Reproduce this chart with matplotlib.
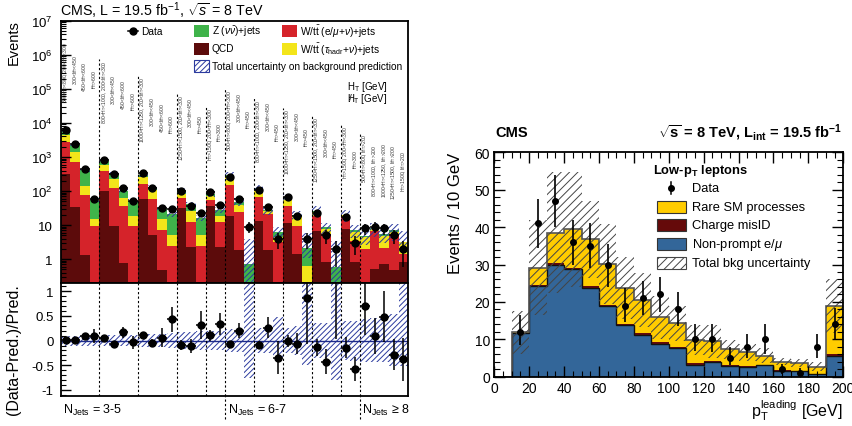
import numpy as np
import matplotlib
matplotlib.use('Agg')
import matplotlib.pyplot as plt
from matplotlib.patches import Rectangle
from matplotlib.lines import Line2D
from matplotlib.ticker import LogLocator, MultipleLocator, FuncFormatter, NullFormatter
import matplotlib.transforms as mtransforms

plt.rcParams['font.family'] = ['Liberation Sans', 'DejaVu Sans']
plt.rcParams['mathtext.fontset'] = 'custom'
plt.rcParams['mathtext.rm'] = 'Liberation Sans'
plt.rcParams['mathtext.it'] = 'Liberation Sans:italic'
plt.rcParams['mathtext.bf'] = 'Liberation Sans:bold'
plt.rcParams['hatch.linewidth'] = 0.7

# ---------------- left panel data (36 search bins) ----------------
qcd = [319, 35, 1.3, 0, 97, 9.7, 0.78, 0, 59, 5, 0.49, 0, 31, 2.25, 0, 36, 2.25,
       19, 1.9, 0, 13, 1.9, 0, 11.7, 1.44, 0, 6.6, 0.82, 0, 7.8, 0.82,
       0, 0.5, 0.7, 0.49, 0.82]
wlep = [2391, 700, 77.7, 9.7, 285, 114, 36.8, 9.3, 104, 54, 6.8, 2.5, 31, 9.95, 2.5, 17, 9.95,
        136, 22.1, 0, 56, 19.1, 3.3, 24.3, 8.26, 0, 12.4, 4.78, 0, 9.7, 2.68,
        2.0, 6.0, 1.5, 5.1, 0.62]
wtau = [1740, 645, 66, 5.6, 218, 104, 25.4, 9.7, 92, 52, 8, 2.5, 21, 14.6, 2.5, 17.5, 6.8,
        118, 16, 0, 42, 5, 1.3, 24, 8.6, 0.65, 5, 2.2, 0, 2, 2.7,
        2.4, 1.2, 2.7, 0.7, 1.66]
zinv = [1700, 930, 262, 38.7, 160, 101, 39, 33, 46, 23, 14, 16, 23.6, 14.8, 11.7, 12.5, 9.5,
        14, 9, 0.73, 11, 1, 1.5, 6, 1.9, 1.5, 2.7, 0.9, 0.58, 0.3, 0.9,
        0.3, 0.5, 0.5, 0.7, 0.1]
data = [6220, 2340, 448, 59, 800, 306, 119, 50, 334, 127, 31, 30, 97, 37, 22, 92, 38,
        267, 59, 9, 111, 34, 4, 65, 19, 4, 23, 5, 2, 17, 3,
        8, 9, 8, 5, 2]
data_err = [79, 48, 21, 7.7, 28, 17.5, 11, 7.1, 18, 11, 5.6, 5.5, 9.8, 6.1, 4.7, 9.6, 6.2,
            16, 7.7, 3, 10.5, 5.8, 2, 8.1, 4.4, 2, 4.8, 2.2, 1.4, 4.1, 1.7,
            2.8, 3, 2.8, 2.2, 1.4]
unc_up = [0.10, 0.10, 0.10, 0.11, 0.12, 0.12, 0.12, 0.12, 0.13, 0.14, 0.14, 0.16, 0.18, 0.18,
          0.20, 0.20, 0.20, 0.24, 0.24, 4.5, 0.25, 0.25, 0.47, 0.25, 0.30, 1.7, 0.36, 0.36,
          4.7, 0.39, 0.39, 0.44, 0.45, 0.50, 0.54, 1.17]
unc_dn = [0.10, 0.10, 0.10, 0.11, 0.12, 0.12, 0.12, 0.12, 0.13, 0.14, 0.14, 0.16, 0.18, 0.18,
          0.20, 0.20, 0.20, 0.24, 0.24, 0.76, 0.25, 0.25, 0.34, 0.25, 0.30, 0.50, 0.36, 0.36,
          0.80, 0.39, 0.41, 0.44, 0.44, 0.44, 0.52, 0.52]

HT = r'H$_{\rm T}$'
MHT = r'$\mathrm{H}\!\!\!\!/\;$' + r'$_{\rm T}$'
bin_labels = [
    f'500<{HT}<800, 200<{MHT}<300', f'300<{MHT}<450', f'450<{MHT}<600', f'{MHT}>600',
    f'800<{HT}<1000, 200<{MHT}<300', f'300<{MHT}<450', f'450<{MHT}<600', f'{MHT}>600',
    f'1000<{HT}<1250, 200<{MHT}<300', f'300<{MHT}<450', f'450<{MHT}<600', f'{MHT}>600',
    f'1250<{HT}<1500, 200<{MHT}<300', f'300<{MHT}<450', f'{MHT}>450',
    f'{HT}>1500, 200<{MHT}<300', f'{MHT}>300',
    f'500<{HT}<800, 200<{MHT}<300', f'300<{MHT}<450', f'{MHT}>450',
    f'800<{HT}<1000, 200<{MHT}<300', f'300<{MHT}<450', f'{MHT}>450',
    f'1000<{HT}<1250, 200<{MHT}<300', f'300<{MHT}<450', f'{MHT}>450',
    f'1250<{HT}<1500, 200<{MHT}<300', f'300<{MHT}<450', f'{MHT}>450',
    f'{HT}>1500, 200<{MHT}<300', f'{MHT}>300',
    f'500<{HT}<800, {MHT}>200', f'800<{HT}<1000, {MHT}>200', f'1000<{HT}<1250, {MHT}>200',
    f'1250<{HT}<1500, {MHT}>200', f'{HT}>1500, {MHT}>200',
]
group_edges = [4, 8, 12, 15, 17, 20, 23, 26, 29, 31]
njet_edges = [17, 31]
njet_labels = [r'N$_{\rm Jets}$ = 3-5', r'N$_{\rm Jets}$ = 6-7', r'N$_{\rm Jets}$ ≥ 8']

# ---------------- right panel data ----------------
edges_r = np.arange(0, 201, 10)
nonprompt = [0, 11.7, 24.3, 30, 28.7, 23.7, 18.9, 13.7, 11.2, 8.8, 7.6, 3.2, 3.9, 2.8, 2.7, 3.0, 1.6, 1.4, 0.7, 5.6]
misid = [0, 0.1, 0.1, 0.3, 0.3, 0.5, 0.4, 0.4, 0.4, 0.4, 0.3, 0.4, 0.3, 0.3, 0.2, 0.2, 0.2, 0.2, 0.1, 0.5]
raresm = [0, 0.05, 4.7, 8.2, 10.4, 12.5, 10.8, 9.6, 8.8, 6.7, 6.4, 6.2, 5.3, 4.2, 3.6, 2.4, 2.2, 2.1, 1.9, 12.8]
unc_r = [0, 5.7, 12.7, 16.2, 15.3, 10.2, 10.6, 8.3, 7.2, 5.7, 4.7, 4.1, 4.4, 2.5, 2.3, 2.0, 1.0, 1.0, 1.1, 7.1]
data_r = [np.nan, 12, 41, 47, 36, 35, 30, 19, 21, 22, 18, 10, 10, 5, 8, 10, 2, 1, 8, 14]
data_r_lo = [0, 3.5, 6.5, 7, 6, 6, 6, 4.3, 4.6, 4.6, 4.5, 3.1, 3.5, 2, 3, 4, 1.3, 0.8, 3, 4]
data_r_hi = [0, 4.5, 6.5, 7, 6, 6, 5.5, 4.7, 4.6, 4.7, 4.7, 4, 4, 3, 3.3, 4, 1.5, 1.3, 3.3, 4.5]

# ---------------- colours ----------------
C_QCD = '#5c0b0b'
C_WLEP = '#d5232a'
C_WTAU = '#f3e51a'
C_Z = '#3fb34a'
C_HATCH = '#2b3a9e'
C_NP = '#336699'
C_MIS = '#650a0a'
C_RARE = '#ffcc00'

W, H = 853, 427
fig = plt.figure(figsize=(8.53, 4.27), dpi=100)


def ax_px(x0, y0, x1, y1, **kw):
    return fig.add_axes([x0 / W, 1 - y1 / H, (x1 - x0) / W, (y1 - y0) / H], **kw)


TOP_Y0, TOP_Y1 = 21.7, 284.0
RAT_Y1 = 396.7
ax1 = ax_px(60.7, TOP_Y0, 408.3, TOP_Y1)
ax2 = ax_px(60.7, TOP_Y1, 408.3, RAT_Y1)
ax3 = ax_px(494.3, 153.3, 843.3, 377.7)

n = len(data)
edges = np.arange(n + 1)
xc = np.arange(n) + 0.5
qcd_a, wlep_a, wtau_a, z_a = map(np.asarray, (qcd, wlep, wtau, zinv))
c1 = qcd_a
c2 = c1 + wlep_a
c3 = c2 + wtau_a
tot = c3 + z_a
data_a = np.asarray(data, float)
err_a = np.asarray(data_err, float)
up = np.asarray(unc_up)
dn = np.asarray(unc_dn)

# ---- top panel ----
ax1.set_yscale('log')
ax1.stairs(c1, edges, baseline=0, fill=True, color=C_QCD, lw=0)
ax1.stairs(c2, edges, baseline=c1, fill=True, color=C_WLEP, lw=0)
ax1.stairs(c3, edges, baseline=c2, fill=True, color=C_WTAU, lw=0)
ax1.stairs(tot, edges, baseline=c3, fill=True, color=C_Z, lw=0)
ax1.stairs(tot * (1 + up), edges, baseline=tot * (1 - dn), fill=True, facecolor='none',
           edgecolor=C_HATCH, hatch='//////', lw=0)
ax1.errorbar(xc, data_a, yerr=err_a, xerr=0.5, fmt='o', color='black', ms=5,
             elinewidth=1.1, capsize=0, zorder=5)
ax1.set_xlim(0, n)
ax1.set_ylim(0.2, 1e7)
ax1.set_xticks([])
ax1.yaxis.set_major_locator(LogLocator(base=10, numticks=20))
ax1.yaxis.set_minor_locator(LogLocator(base=10, subs=np.arange(2, 10), numticks=20))
ax1.yaxis.set_minor_formatter(NullFormatter())


def logfmt(v, pos):
    e = int(round(np.log10(v)))
    if e == 0:
        return '1'
    if e == 1:
        return '10'
    return r'$10^{%d}$' % e


ax1.yaxis.set_major_formatter(FuncFormatter(logfmt))
ax1.tick_params(axis='y', which='major', direction='in', length=7, width=1, labelsize=9.5, pad=6)
ax1.tick_params(axis='y', which='minor', direction='in', length=3.5, width=0.8)

# label tops (pixel rows) for the rotated bin labels
label_top_px = [42, 55, 62, 70, 60, 75, 80, 92, 77, 97, 103, 115, 95, 98, 115, 108, 123,
                90, 93, 110, 99, 102, 123, 109, 112, 128, 117, 128, 140, 126, 150,
                133, 145, 143, 145, 150]
blend1 = mtransforms.blended_transform_factory(ax1.transData, ax1.transAxes)
for i, (lab, ypx) in enumerate(zip(bin_labels, label_top_px)):
    yf = (TOP_Y1 - ypx) / (TOP_Y1 - TOP_Y0)
    ax1.text(xc[i], yf, lab, transform=blend1, rotation=90, ha='center', va='top',
             fontsize=3.6, color='#333333')

line_top_px = [60, 77, 95, 108, 90, 99, 109, 117, 126, 133]
for xe, ypx in zip(group_edges, line_top_px):
    yf = (TOP_Y1 - ypx) / (TOP_Y1 - TOP_Y0)
    ax1.axvline(xe, ymin=0, ymax=yf, color='black', ls=(0, (2, 2)), lw=0.8, zorder=6)

# ---- ratio panel ----
ratio = data_a / tot - 1
ratio_err = err_a / tot
ax2.stairs(up, edges, baseline=-dn, fill=True, facecolor='none', edgecolor=C_HATCH,
           hatch='//////', lw=0)
ax2.axhline(0, color='#1c2a8a', lw=1)
ax2.errorbar(xc, ratio, yerr=ratio_err, xerr=0.5, fmt='o', color='black', ms=5,
             elinewidth=1.1, capsize=0, zorder=5)
ax2.set_xlim(0, n)
ax2.set_ylim(-1.12, 1.17)
ax2.set_xticks([])
ax2.yaxis.set_major_locator(MultipleLocator(0.5))
ax2.yaxis.set_minor_locator(MultipleLocator(0.1))
ax2.yaxis.set_major_formatter(FuncFormatter(lambda v, p: '%g' % v))
ax2.tick_params(axis='y', which='major', direction='in', length=7, width=1, labelsize=9.5, pad=5)
ax2.tick_params(axis='y', which='minor', direction='in', length=3.5, width=0.8)
for xe in group_edges:
    ax2.axvline(xe, color='black', ls=(0, (2, 2)), lw=0.8, zorder=6)
for xe in njet_edges:
    ax2.axvline(xe, ymin=-0.21, ymax=0, color='black', ls=(0, (2, 2)), lw=0.8, clip_on=False)

for a in (ax1, ax2):
    for s in a.spines.values():
        s.set_linewidth(1.3)

# ---- right panel ----
npa = np.asarray(nonprompt)
mia = npa + np.asarray(misid)
tra = mia + np.asarray(raresm)
ur = np.asarray(unc_r)
ax3.stairs(npa, edges_r, baseline=0, fill=True, color=C_NP, lw=0)
ax3.stairs(mia, edges_r, baseline=npa, fill=True, color=C_MIS, lw=0)
ax3.stairs(tra, edges_r, baseline=mia, fill=True, color=C_RARE, lw=0)
ax3.stairs(npa, edges_r, baseline=None, color='#111111', lw=1.0)
ax3.stairs(tra, edges_r, baseline=None, color='#555555', lw=1.2)
ax3.stairs(tra + ur, edges_r, baseline=tra - ur, fill=True, facecolor='none',
           edgecolor='#444444', hatch='////', lw=0)
xr = 0.5 * (edges_r[1:] + edges_r[:-1])
ax3.errorbar(xr, data_r, yerr=[data_r_lo, data_r_hi], fmt='o', color='black', ms=4,
             elinewidth=1.2, capsize=0, zorder=5)
ax3.set_xlim(0, 200)
ax3.set_ylim(0, 60)
ax3.xaxis.set_major_locator(MultipleLocator(20))
ax3.xaxis.set_minor_locator(MultipleLocator(5))
ax3.yaxis.set_major_locator(MultipleLocator(10))
ax3.yaxis.set_minor_locator(MultipleLocator(2))
ax3.tick_params(which='both', direction='in', top=True, right=True, labelsize=10, pad=3)
ax3.tick_params(which='major', length=8, width=1)
ax3.tick_params(which='minor', length=4, width=0.8)
for s in ax3.spines.values():
    s.set_linewidth(1.3)

# ---------------- overlay for texts / legends ----------------
ov = fig.add_axes([0, 0, 1, 1], zorder=20)
ov.set_xlim(0, W)
ov.set_ylim(H, 0)
ov.axis('off')
ov.patch.set_alpha(0)

ov.text(60, 11, r'CMS, L = 19.5 fb$^{-1}$, $\sqrt{s}$ = 8 TeV', fontsize=10.3, va='center', ha='left')
ov.text(14, 20, 'Events', rotation=90, fontsize=10.5, ha='center', va='top')
ov.text(14, 350, '(Data-Pred.)/Pred.', rotation=90, fontsize=11.5, ha='center', va='center')
ov.text(63, 410, njet_labels[0], fontsize=9, ha='left', va='center')
ov.text(228, 410, njet_labels[1], fontsize=9, ha='left', va='center')
ov.text(362, 410, njet_labels[2], fontsize=9, ha='left', va='center')

# left legend
ov.add_line(Line2D([128, 138], [32.3, 32.3], color='black', lw=1.1))
ov.plot([133], [32.3], 'o', color='black', ms=5)
ov.text(141, 32.3, 'Data', fontsize=7.3, va='center')
leg_left = [
    (194, 32.3, C_Z, None, r'Z ($\nu\bar{\nu}$)+jets'),
    (282, 32.3, C_WLEP, None, r'W/t$\bar{\rm t}$ (e/$\mu$+$\nu$)+jets'),
    (194, 49.5, C_QCD, None, 'QCD'),
    (282, 49.5, C_WTAU, None, r'W/t$\bar{\rm t}$ ($\tau_{\rm hadr}$+$\nu$)+jets'),
    (194, 66.8, 'white', C_HATCH, 'Total uncertainty on background prediction'),
]
for x0, yc, fc, hc, lab in leg_left:
    if hc is None:
        ov.add_patch(Rectangle((x0, yc - 6), 15, 12, facecolor=fc, edgecolor='none'))
    else:
        ov.add_patch(Rectangle((x0, yc - 6), 15, 12, facecolor='white', edgecolor=hc,
                               hatch='//////', lw=0.8))
    ov.text(x0 + 18, yc, lab, fontsize=7.3, va='center')
ov.text(347, 86.5, HT + ' [GeV]', fontsize=7, va='center')
ov.text(347, 98.5, MHT + ' [GeV]', fontsize=7, va='center')

# right titles
ov.text(495, 133, 'CMS', fontsize=10.5, fontweight='bold', va='center', ha='left')
ov.text(842, 133, r'$\mathbf{\sqrt{s}}$ = 8 TeV, L$_{\mathbf{int}}$ = 19.5 fb$^{\mathbf{-1}}$',
        fontsize=10.5, fontweight='bold', va='center', ha='right')
ov.text(456, 153, 'Events / 10 GeV', rotation=90, fontsize=12, ha='center', va='top')
ov.text(843, 411, r'p$_{\rm T}^{\rm leading}$ [GeV]', fontsize=11.5, ha='right', va='center')

# right legend
ov.text(653, 171, r'Low-p$_{\mathbf{T}}$ leptons', fontsize=9.3, fontweight='bold', va='center')
ov.add_line(Line2D([671.5, 671.5], [183, 195], color='black', lw=1.1))
ov.plot([671.5], [189], 'o', color='black', ms=4)
ov.text(692, 189, 'Data', fontsize=9.3, va='center')
leg_right = [
    (208, C_RARE, 'Rare SM processes', None),
    (226, C_MIS, 'Charge misID', None),
    (245, C_NP, 'Non-prompt e/$\\mu$', None),
    (264, 'white', 'Total bkg uncertainty', '#444444'),
]
for yc, fc, lab, hc in leg_right:
    if hc is None:
        ov.add_patch(Rectangle((657, yc - 6), 29, 12, facecolor=fc, edgecolor='#333333', lw=0.8))
    else:
        ov.add_patch(Rectangle((657, yc - 6), 29, 12, facecolor='white', edgecolor=hc,
                               hatch='////', lw=0.8))
    ov.text(692, yc, lab, fontsize=9.3, va='center')

fig.savefig('out.png', dpi=100)
